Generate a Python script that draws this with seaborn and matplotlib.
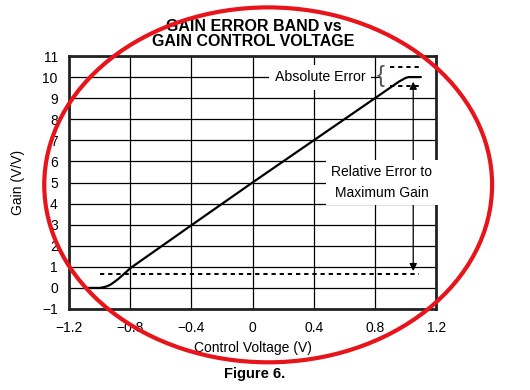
import seaborn as sns
import matplotlib.pyplot as plt
import pandas as pd
from matplotlib.patches import Ellipse, Rectangle

sns.set_theme(style="white")
plt.rcParams["font.family"] = ["Liberation Sans", "DejaVu Sans"]
plt.rcParams["axes.unicode_minus"] = True
plt.rcParams["text.color"] = "black"
plt.rcParams["axes.labelcolor"] = "black"

# Gain curve
control_v = [-1.1, -1.0, -0.975, -0.95, -0.925, -0.9, -0.875, -0.85, -0.825, -0.8,
             -0.6, -0.4, 0.0, 0.4, 0.8, 0.9, 0.93, 0.96, 0.98, 1.0, 1.02, 1.1]
gain = [0.0, 0.0, 0.03, 0.08, 0.17, 0.3, 0.44, 0.6, 0.76, 0.93,
        1.95, 2.97, 5.0, 7.0, 9.0, 9.5, 9.65, 9.8, 9.88, 9.96, 10.0, 10.0]

# Error band levels
abs_err_high = 10.5
abs_err_low = 9.6
rel_err_low = 0.65

x_ticks = [-1.2, -0.8, -0.4, 0, 0.4, 0.8, 1.2]
x_labels = ["\u22121.2", "\u22120.8", "\u22120.4", "0", "0.4", "0.8", "1.2"]
y_ticks = list(range(-1, 12))
y_labels = ["\u22121"] + [str(v) for v in range(0, 12)]

df = pd.DataFrame({"Control Voltage (V)": control_v, "Gain (V/V)": gain})

fig = plt.figure(figsize=(5.3, 3.9), dpi=100)
ax = fig.add_axes([0.130, 0.2077, 0.693, 0.6487])

sns.lineplot(data=df, x="Control Voltage (V)", y="Gain (V/V)", sort=False,
             color="black", lw=1.6, ax=ax, zorder=3)

ax.set_xlim(-1.2, 1.2)
ax.set_ylim(-1, 11)
ax.set_xticks(x_ticks, x_labels)
ax.set_yticks(y_ticks, y_labels)
ax.set_axisbelow(True)
ax.grid(True, color="black", lw=0.9)
ax.tick_params(length=0, labelsize=10, colors="black")
ax.tick_params(axis="x", pad=9)
ax.tick_params(axis="y", pad=8)
for s in ax.spines.values():
    s.set_color("#222222")
    s.set_linewidth(2)

ax.set_xlabel("Control Voltage (V)", fontsize=10, labelpad=4)
ax.set_ylabel("Gain (V/V)", fontsize=10, labelpad=12)

# white patch behind the absolute-error callout
ax.add_patch(Rectangle((0.84, 9.4), 0.35, 1.35, facecolor="white",
                       edgecolor="none", zorder=1))

dash = (0, (2.2, 2.0))
ax.hlines([abs_err_high, abs_err_low], 0.9, 1.09, colors="black", lw=1.4,
          linestyles=[dash], zorder=2)
ax.hlines(rel_err_low, -1.0, 1.09, colors="black", lw=1.4,
          linestyles=[dash], zorder=2)

ax.text(0.835, (abs_err_high + abs_err_low) / 2, "{", fontsize=17,
        ha="center", va="center", color="#555555", zorder=4)

ax.annotate("", xy=(1.05, 9.78), xytext=(1.05, 0.8),
            arrowprops=dict(arrowstyle="<|-|>", color="black", lw=0.9,
                            mutation_scale=11, shrinkA=0, shrinkB=0), zorder=4)

ax.text(0.44, 10.0, "Absolute Error", fontsize=10.2, ha="center", va="center",
        zorder=5, bbox=dict(facecolor="white", edgecolor="none", pad=4))
ax.text(0.845, 5.0, "Relative Error to\nMaximum Gain", fontsize=10,
        ha="center", va="center", linespacing=1.6, zorder=5,
        bbox=dict(facecolor="white", edgecolor="none", pad=4))

fig.text(0.478, 0.912, "GAIN ERROR BAND vs\nGAIN CONTROL VOLTAGE", fontsize=11.5,
         fontweight="bold", ha="center", va="center", linespacing=1.0)
fig.text(0.481, 0.04, "Figure 6.", fontsize=10.5, fontweight="bold",
         ha="center", va="center")

fig.add_artist(Ellipse((0.506, 0.526), 0.845, 0.91, transform=fig.transFigure,
                       fill=False, edgecolor="#e8141b", lw=3, zorder=10))

fig.savefig("out.png", dpi=100)
